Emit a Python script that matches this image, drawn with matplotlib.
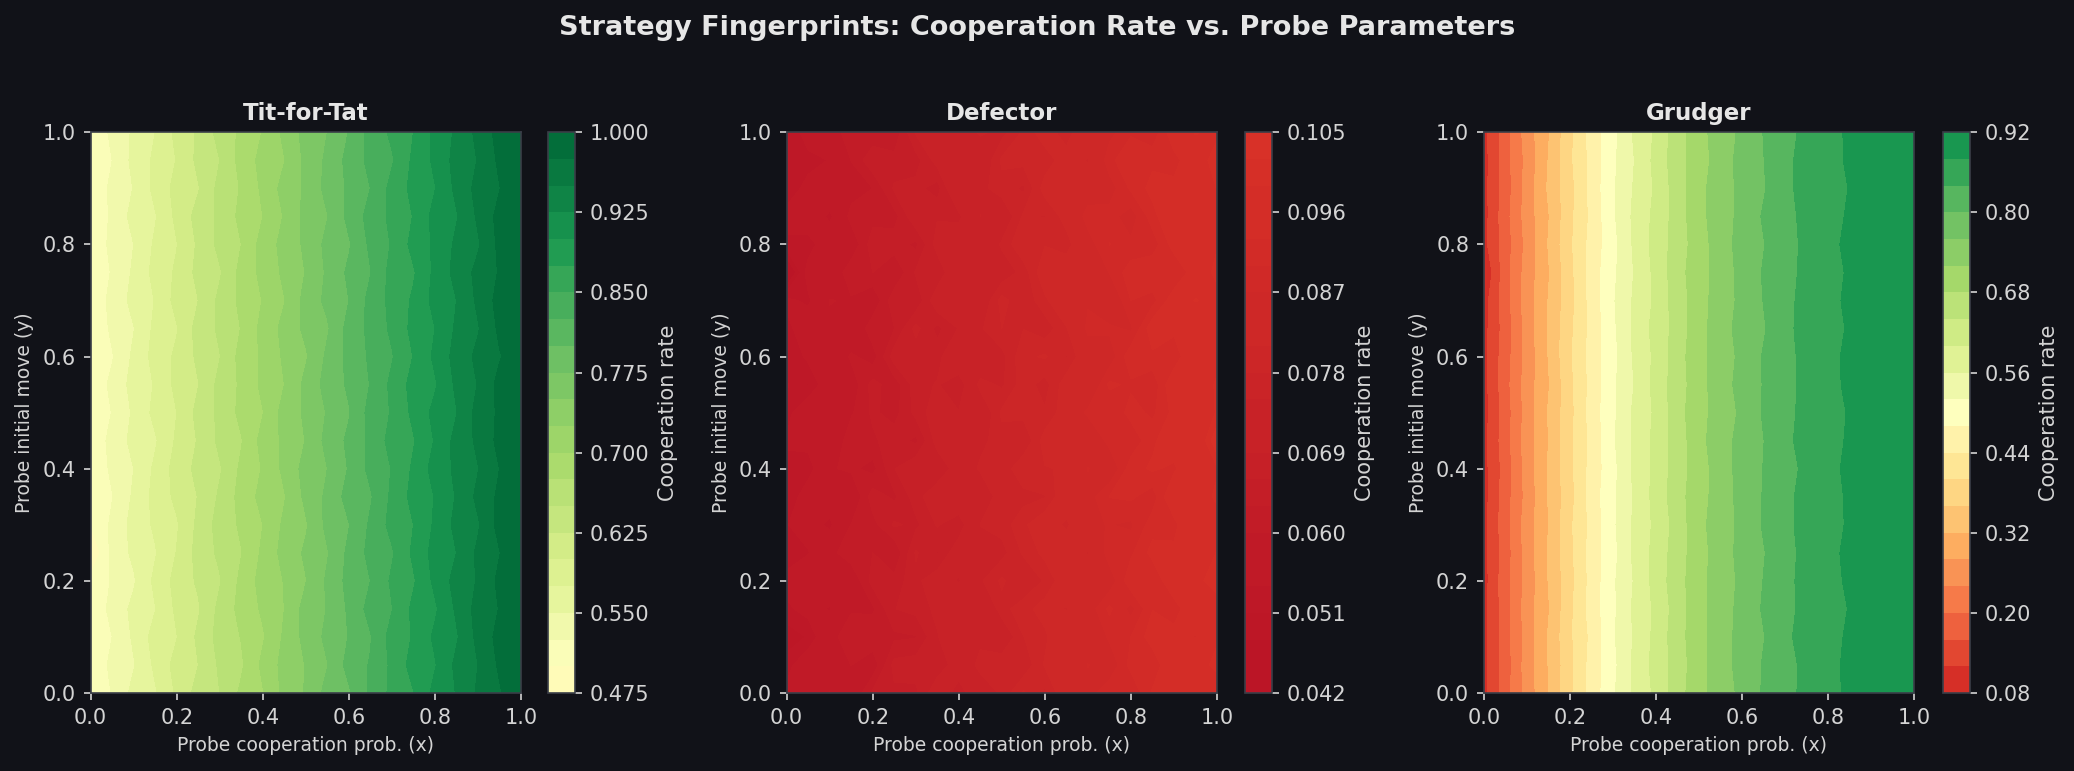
import numpy as np
import matplotlib
matplotlib.use('Agg')
import matplotlib.pyplot as plt

# probe grid
probe_x = [0.00, 0.05, 0.10, 0.15, 0.20, 0.25, 0.30, 0.35, 0.40, 0.45, 0.50,
           0.55, 0.60, 0.65, 0.70, 0.75, 0.80, 0.85, 0.90, 0.95, 1.00]
probe_y = [0.00, 0.05, 0.10, 0.15, 0.20, 0.25, 0.30, 0.35, 0.40, 0.45, 0.50,
           0.55, 0.60, 0.65, 0.70, 0.75, 0.80, 0.85, 0.90, 0.95, 1.00]

# cooperation rate x1000, one row per probe_y value
tit_for_tat = [
    [506, 526, 558, 572, 604, 635, 650, 680, 698, 732, 752, 784, 796, 830, 856, 874, 908, 926, 954, 972, 999],
    [502, 532, 548, 580, 609, 625, 654, 671, 706, 733, 751, 774, 809, 827, 855, 885, 898, 931, 950, 979, 993],
    [505, 525, 554, 585, 599, 630, 659, 676, 697, 729, 758, 781, 801, 823, 860, 877, 905, 922, 957, 983, 996],
    [501, 534, 556, 574, 605, 622, 657, 683, 704, 725, 760, 776, 804, 834, 849, 881, 896, 929, 959, 976, 1000],
    [507, 527, 547, 581, 608, 629, 648, 681, 710, 726, 749, 779, 808, 825, 854, 872, 906, 934, 952, 981, 992],
    [475, 533, 555, 573, 601, 634, 655, 674, 705, 734, 754, 773, 806, 832, 847, 880, 909, 925, 955, 974, 997],
    [500, 530, 559, 579, 597, 631, 660, 679, 700, 730, 747, 782, 799, 829, 858, 875, 904, 932, 947, 984, 1000],
    [505, 524, 554, 583, 606, 626, 654, 684, 708, 723, 756, 780, 810, 822, 855, 883, 901, 927, 956, 980, 994],
    [508, 529, 550, 580, 610, 632, 647, 680, 702, 731, 759, 775, 802, 832, 851, 879, 910, 930, 949, 975, 998],
    [503, 534, 557, 572, 604, 627, 656, 673, 709, 730, 751, 783, 805, 831, 859, 873, 902, 933, 955, 982, 991],
    [501, 526, 554, 582, 600, 633, 655, 682, 699, 735, 754, 777, 798, 834, 852, 881, 907, 924, 959, 979, 1000],
    [506, 531, 559, 577, 607, 624, 658, 679, 706, 725, 757, 784, 804, 826, 856, 884, 897, 930, 951, 983, 996],
    [504, 523, 555, 584, 605, 630, 649, 684, 704, 729, 747, 780, 807, 829, 848, 876, 905, 934, 956, 973, 990],
    [502, 530, 549, 581, 598, 635, 654, 676, 708, 732, 756, 772, 809, 831, 855, 882, 900, 929, 948, 980, 997],
    [507, 532, 558, 576, 609, 625, 656, 681, 701, 724, 759, 781, 800, 833, 857, 879, 908, 925, 955, 984, 1000],
    [505, 527, 554, 583, 604, 632, 647, 683, 707, 730, 751, 779, 805, 824, 859, 872, 906, 933, 957, 977, 994],
    [501, 533, 550, 579, 599, 629, 657, 675, 710, 733, 755, 782, 797, 830, 852, 883, 904, 930, 947, 981, 998],
    [506, 529, 559, 573, 606, 634, 655, 682, 700, 727, 758, 774, 807, 834, 856, 876, 909, 923, 954, 983, 992],
    [504, 531, 551, 582, 608, 623, 658, 677, 705, 734, 754, 783, 804, 825, 858, 882, 899, 931, 958, 974, 997],
    [507, 525, 557, 580, 601, 631, 650, 684, 708, 724, 756, 780, 808, 832, 847, 880, 905, 934, 951, 980, 999],
    [505, 530, 554, 575, 607, 629, 659, 680, 701, 731, 759, 775, 801, 833, 855, 875, 907, 929, 957, 984, 996],
]

# cooperation rate x10000
defector = [
    [550, 549, 602, 565, 636, 653, 652, 717, 674, 721, 756, 815, 772, 843, 854, 895, 870, 935, 940, 945, 968],
    [526, 573, 554, 601, 576, 671, 676, 669, 710, 763, 774, 755, 814, 825, 872, 841, 912, 905, 970, 975, 998],
    [490, 513, 584, 625, 624, 623, 628, 687, 728, 739, 714, 779, 802, 855, 818, 877, 900, 947, 946, 927, 986],
    [532, 555, 536, 595, 594, 659, 670, 699, 740, 691, 768, 797, 826, 807, 848, 907, 858, 929, 910, 969, 974],
    [556, 579, 578, 571, 642, 641, 682, 711, 686, 745, 786, 749, 784, 837, 860, 847, 924, 899, 964, 981, 1004],
    [514, 537, 590, 619, 630, 599, 694, 657, 716, 733, 738, 785, 820, 849, 806, 889, 894, 941, 940, 951, 992],
    [538, 561, 530, 601, 618, 665, 652, 693, 668, 751, 762, 803, 838, 801, 866, 871, 864, 917, 916, 987, 968],
    [502, 573, 572, 559, 648, 623, 676, 717, 728, 703, 780, 767, 778, 843, 854, 901, 906, 881, 970, 963, 998],
    [532, 519, 596, 607, 588, 659, 688, 663, 710, 757, 756, 809, 808, 813, 872, 835, 918, 935, 922, 975, 986],
    [544, 555, 554, 625, 624, 647, 622, 705, 734, 739, 768, 749, 826, 855, 824, 883, 876, 923, 958, 939, 1050],
    [526, 579, 590, 595, 636, 617, 670, 711, 692, 709, 786, 791, 784, 831, 878, 871, 912, 893, 940, 969, 992],
    [544, 507, 572, 577, 642, 611, 676, 693, 662, 763, 744, 797, 766, 831, 824, 907, 894, 875, 964, 945, 998],
    [508, 549, 548, 607, 582, 677, 670, 675, 740, 703, 738, 803, 814, 777, 848, 847, 924, 923, 904, 981, 974],
    [526, 573, 590, 553, 624, 629, 700, 651, 692, 745, 780, 779, 760, 807, 878, 877, 864, 953, 940, 939, 992],
    [550, 531, 602, 595, 570, 653, 634, 717, 710, 715, 792, 755, 802, 849, 866, 829, 900, 887, 952, 993, 968],
    [420, 561, 560, 625, 630, 599, 664, 663, 734, 733, 726, 761, 838, 837, 812, 871, 918, 929, 898, 951, 1004],
    [532, 519, 578, 571, 648, 647, 622, 705, 722, 697, 756, 809, 808, 795, 854, 901, 876, 881, 946, 987, 986],
    [556, 579, 530, 613, 618, 617, 688, 687, 680, 751, 714, 785, 778, 825, 884, 883, 852, 917, 970, 969, 962],
    [514, 555, 584, 583, 600, 665, 670, 645, 746, 739, 768, 743, 826, 855, 848, 853, 906, 941, 940, 933, 992],
    [538, 525, 542, 601, 654, 641, 646, 705, 698, 709, 786, 791, 790, 831, 806, 889, 930, 923, 916, 963, 1010],
    [496, 567, 578, 619, 606, 605, 694, 699, 716, 757, 738, 785, 832, 789, 860, 859, 894, 875, 958, 993, 980],
]

# cooperation rate x1000
grudger = [
    [106, 181, 256, 318, 391, 453, 514, 566, 609, 662, 708, 738, 770, 804, 830, 848, 870, 886, 896, 902, 901],
    [108, 178, 258, 321, 387, 454, 508, 569, 614, 657, 706, 741, 775, 803, 825, 851, 868, 889, 892, 899, 903],
    [106, 182, 254, 323, 392, 448, 514, 564, 611, 664, 705, 744, 772, 798, 833, 853, 864, 887, 897, 895, 901],
    [107, 181, 259, 316, 390, 456, 511, 568, 608, 659, 708, 737, 774, 804, 831, 849, 871, 881, 894, 902, 898],
    [104, 184, 253, 321, 385, 453, 513, 563, 615, 664, 705, 743, 767, 801, 828, 854, 868, 886, 889, 900, 902],
    [106, 179, 256, 324, 389, 455, 506, 569, 613, 661, 703, 741, 772, 797, 833, 846, 869, 889, 896, 897, 899],
    [108, 183, 259, 319, 392, 450, 512, 567, 609, 657, 708, 742, 769, 804, 832, 851, 871, 883, 894, 902, 904],
    [104, 181, 252, 322, 384, 457, 511, 564, 614, 663, 706, 736, 775, 802, 830, 853, 865, 886, 889, 899, 901],
    [106, 176, 256, 324, 389, 453, 507, 569, 611, 661, 700, 741, 774, 801, 825, 849, 868, 889, 895, 894, 896],
    [107, 182, 259, 319, 391, 449, 514, 566, 612, 658, 707, 744, 772, 799, 831, 854, 863, 886, 892, 902, 920],
    [104, 179, 256, 323, 386, 456, 511, 568, 607, 665, 705, 739, 767, 804, 828, 852, 870, 882, 897, 899, 904],
    [105, 184, 258, 316, 389, 451, 512, 561, 614, 661, 703, 744, 772, 802, 833, 846, 866, 889, 894, 901, 897],
    [109, 181, 253, 321, 393, 455, 506, 566, 609, 662, 708, 738, 770, 803, 828, 851, 872, 886, 890, 896, 902],
    [106, 177, 256, 324, 390, 451, 511, 569, 614, 656, 706, 741, 776, 796, 830, 854, 866, 884, 895, 899, 899],
    [103, 181, 259, 321, 384, 454, 515, 566, 608, 661, 700, 743, 768, 801, 833, 848, 868, 888, 889, 902, 904],
    [80, 184, 256, 316, 387, 456, 511, 562, 611, 664, 705, 736, 773, 803, 825, 851, 871, 883, 894, 895, 901],
    [108, 179, 251, 322, 392, 453, 506, 567, 615, 659, 701, 741, 775, 798, 830, 846, 869, 889, 892, 900, 898],
    [104, 184, 257, 317, 389, 448, 513, 569, 611, 658, 709, 739, 772, 804, 826, 852, 862, 886, 897, 897, 904],
    [106, 178, 256, 325, 385, 453, 514, 564, 606, 661, 708, 742, 770, 796, 834, 849, 868, 881, 896, 902, 901],
    [104, 183, 251, 321, 392, 450, 511, 560, 612, 664, 703, 737, 775, 799, 830, 855, 863, 887, 891, 899, 899],
    [107, 179, 259, 316, 389, 457, 508, 566, 606, 663, 703, 744, 766, 801, 831, 847, 871, 884, 894, 894, 903],
]

strategies = ["Tit-for-Tat", "Defector", "Grudger"]
scales = [1000.0, 10000.0, 1000.0]

BG = '#111218'
EDGE = '#3a3e48'
TXT = '#e6e6e6'
TICK = '#d4d4d4'

plt.rcParams['font.family'] = 'DejaVu Sans'

fig = plt.figure(figsize=(2074 / 150, 771 / 150), dpi=150, facecolor=BG)

ax_left = [0.0437, 0.3793, 0.7154]
cb_left = [0.2642, 0.6003, 0.9366]
bottom, height = 0.1012, 0.7273

for i, (name, grid) in enumerate(zip(strategies, [tit_for_tat, defector, grudger])):
    Z = np.array(grid) / scales[i]
    ax = fig.add_axes([ax_left[i], bottom, 0.2075, height])
    ax.set_facecolor(BG)
    levels = np.linspace(Z.min(), Z.max(), 22)
    cs = ax.contourf(probe_x, probe_y, Z, levels=levels, cmap='RdYlGn', vmin=0, vmax=1)
    ax.set_title(name, color=TXT, fontsize=11, fontweight='bold', pad=6)
    ax.set_xlabel('Probe cooperation prob. (x)', color=TICK, fontsize=9)
    ax.set_ylabel('Probe initial move (y)', color=TICK, fontsize=9)
    ax.tick_params(colors=TICK, labelsize=10)
    for s in ax.spines.values():
        s.set_color(EDGE)

    cax = fig.add_axes([cb_left[i], bottom, 0.0131, height])
    cb = fig.colorbar(cs, cax=cax)
    cb.set_label('Cooperation rate', color=TICK, fontsize=10)
    cb.ax.tick_params(colors=TICK, labelsize=10)
    cb.outline.set_edgecolor(EDGE)

fig.suptitle('Strategy Fingerprints: Cooperation Rate vs. Probe Parameters',
             color=TXT, fontsize=13, fontweight='bold', y=0.981)

fig.savefig('out.png', dpi=150, facecolor=BG)
